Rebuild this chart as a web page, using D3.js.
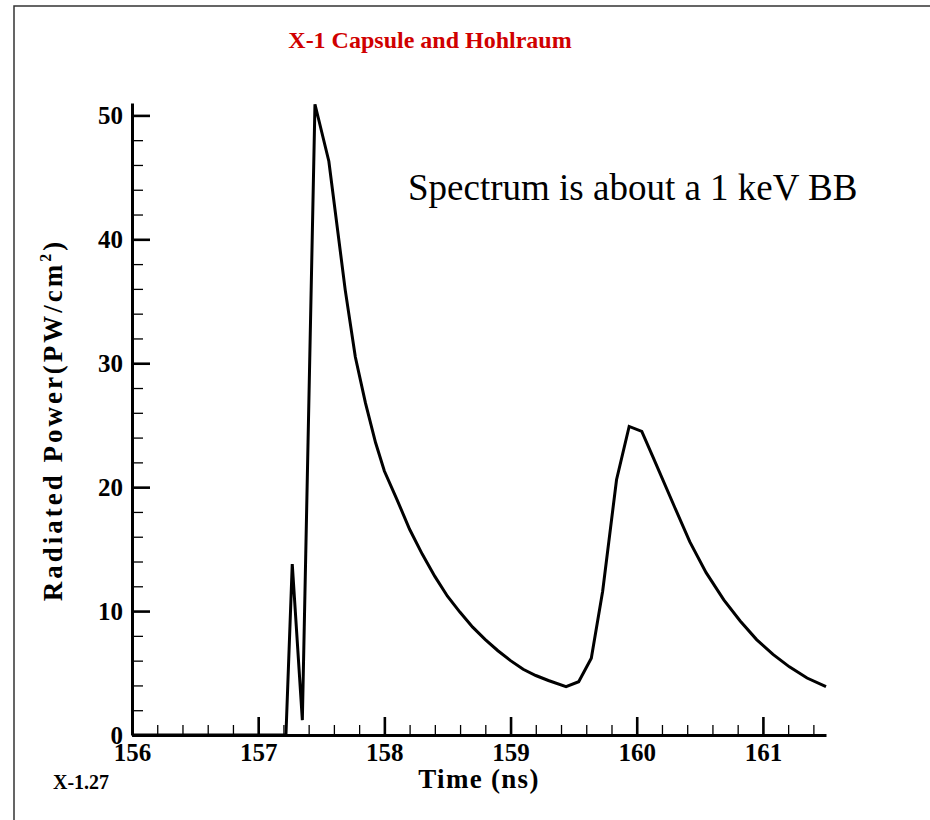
<!DOCTYPE html>
<html>
<head>
<meta charset="utf-8">
<script src="https://cdn.jsdelivr.net/npm/d3@7"></script>
<style>
  body { margin: 0; background: #fff; }
  text { font-family: "Liberation Serif", "Times New Roman", serif; }
</style>
</head>
<body>
<div id="chart"></div>
<script>
// Data: time (ns) and radiated power (PW/cm^2)
var times = [156, 157.22, 157.27, 157.35, 157.45, 157.56, 157.69, 157.77, 157.85, 157.93,
  158.0, 158.1, 158.2, 158.3, 158.4, 158.5, 158.6, 158.7, 158.8, 158.9,
  159.0, 159.1, 159.2, 159.3, 159.44, 159.54, 159.64, 159.73, 159.84, 159.94,
  160.04, 160.13, 160.3, 160.42, 160.55, 160.69, 160.82, 160.95, 161.08, 161.21,
  161.35, 161.5];
var power = [0, 0, 13.8, 1.2, 50.9, 46.3, 35.9, 30.5, 26.8, 23.6,
  21.3, 19.0, 16.6, 14.6, 12.8, 11.2, 9.9, 8.7, 7.7, 6.8,
  6.0, 5.3, 4.8, 4.4, 3.9, 4.3, 6.2, 11.6, 20.6, 24.9,
  24.5, 22.4, 18.4, 15.6, 13.1, 10.9, 9.2, 7.7, 6.5, 5.5,
  4.6, 3.9];

var xTicks = [156, 157, 158, 159, 160, 161];
var yTicks = [0, 10, 20, 30, 40, 50];

var width = 930,
  height = 820;

var svg = d3.select("#chart")
  .append("svg")
  .attr("width", width)
  .attr("height", height);

// frame around the page
svg.append("path")
  .attr("d", "M14,820V6H930")
  .attr("fill", "none")
  .attr("stroke", "#333")
  .attr("stroke-width", 1.5);

var x = d3.scaleLinear().domain([156, 161.5]).range([132, 826]);
var y = d3.scaleLinear().domain([0, 51]).range([735, 103]);

// minor ticks
var xMinor = d3.range(0, 28).map(function(i) { return 156 + i * 0.2; })
  .filter(function(v) { return Math.abs(v - Math.round(v)) > 0.01 && v < 161.5; });
var yMinor = d3.range(0, 26).map(function(i) { return i * 2; })
  .filter(function(v) { return v % 10 != 0; });

svg.append("g")
  .attr("class", "minor")
  .attr("transform", "translate(0,735)")
  .call(d3.axisBottom(x).tickValues(xMinor).tickSizeInner(-10).tickSizeOuter(0).tickFormat(""));

svg.append("g")
  .attr("class", "minor")
  .attr("transform", "translate(132,0)")
  .call(d3.axisLeft(y).tickValues(yMinor).tickSizeInner(-11).tickSizeOuter(0).tickFormat(""));

svg.selectAll(".minor .domain").remove();
svg.selectAll(".minor line").attr("stroke", "#000").attr("stroke-width", 1.3);

// major ticks and labels
var xAxis = svg.append("g")
  .attr("transform", "translate(0,735)")
  .call(d3.axisBottom(x).tickValues(xTicks).tickSizeInner(-18).tickSizeOuter(0).tickPadding(8)
    .tickFormat(d3.format("d")));

var yAxis = svg.append("g")
  .attr("transform", "translate(132,0)")
  .call(d3.axisLeft(y).tickValues(yTicks).tickSizeInner(-18).tickSizeOuter(0).tickPadding(9)
    .tickFormat(d3.format("d")));

[xAxis, yAxis].forEach(function(g) {
  g.select(".domain").attr("stroke", "#000").attr("stroke-width", 3);
  g.selectAll(".tick line").attr("stroke", "#000").attr("stroke-width", 2.6);
  g.selectAll(".tick text")
    .attr("fill", "#000")
    .style("font-family", "'Liberation Serif', serif")
    .style("font-size", "25px")
    .style("font-weight", "bold");
});

// the curve
var line = d3.line()
  .x(function(d, i) { return x(times[i]); })
  .y(function(d) { return y(d); });

svg.append("path")
  .datum(power)
  .attr("d", line)
  .attr("fill", "none")
  .attr("stroke", "#000")
  .attr("stroke-width", 3)
  .attr("stroke-linejoin", "miter");

// title
svg.append("text")
  .attr("x", 430)
  .attr("y", 48)
  .attr("text-anchor", "middle")
  .attr("fill", "#d00000")
  .style("font-size", "24px")
  .style("font-weight", "bold")
  .text("X-1 Capsule and Hohlraum");

// annotation
svg.append("text")
  .attr("x", 408)
  .attr("y", 200)
  .style("font-size", "37px")
  .text("Spectrum is about a 1 keV BB");

// axis titles
svg.append("text")
  .attr("x", 479)
  .attr("y", 788)
  .attr("text-anchor", "middle")
  .style("font-size", "27px")
  .style("font-weight", "bold")
  .style("letter-spacing", "1.3px")
  .text("Time (ns)");

var yLab = svg.append("text")
  .attr("transform", "translate(62,420) rotate(-90)")
  .attr("text-anchor", "middle")
  .style("font-size", "27px")
  .style("font-weight", "bold")
  .style("letter-spacing", "3px");
yLab.append("tspan").text("Radiated Power(PW/cm");
yLab.append("tspan").attr("dy", -11).style("font-size", "16px").text("2");
yLab.append("tspan").attr("dy", 11).text(")");

// figure number
svg.append("text")
  .attr("x", 53)
  .attr("y", 789)
  .style("font-size", "20px")
  .style("font-weight", "bold")
  .text("X-1.27");
</script>
</body>
</html>
